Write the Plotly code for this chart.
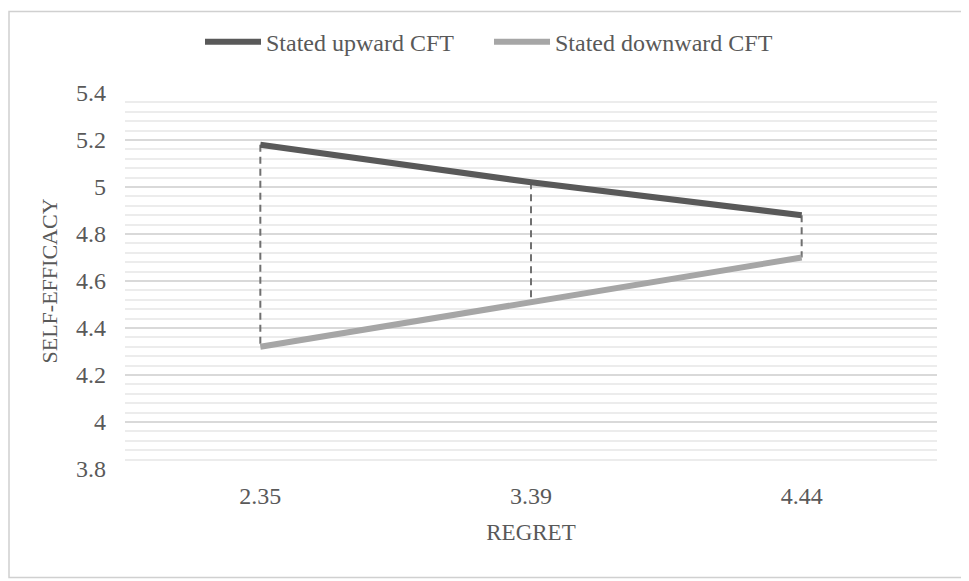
import plotly.graph_objects as go

categories = ["2.35", "3.39", "4.44"]
upward = [5.18, 5.02, 4.88]
downward = [4.32, 4.51, 4.70]
y_ticks = [3.8, 4, 4.2, 4.4, 4.6, 4.8, 5, 5.2, 5.4]
y_tick_labels = ["3.8", "4", "4.2", "4.4", "4.6", "4.8", "5", "5.2", "5.4"]

# page body has an 8px margin; figure spans page pixels 8..969 x 8..581
OFF = 8
W, H = 969 - OFF, 581 - OFF
ml, mr, mt, mb = 125 - OFF, 32, 91 - OFF, 112
pw, ph = W - ml - mr, H - mt - mb

font = "Liberation Serif"
txt = "#595959"

fig = go.Figure()

# dashed connectors
dx, dy = [], []
for c, u, d in zip(categories, upward, downward):
    dx += [c, c, None]
    dy += [u, d, None]
fig.add_trace(go.Scatter(x=dx, y=dy, mode="lines", showlegend=False, hoverinfo="skip",
                         line=dict(color="#707070", width=2, dash="7px,5px")))

fig.add_trace(go.Scatter(x=categories, y=upward, mode="lines", name="Stated upward CFT",
                         line=dict(color="#595959", width=6)))
fig.add_trace(go.Scatter(x=categories, y=downward, mode="lines", name="Stated downward CFT",
                         line=dict(color="#a6a6a6", width=6)))

def px_to_paper_x(px):
    return (px - OFF - ml) / pw

def px_to_paper_y(py):
    return (H - mb - (py - OFF)) / ph

fig.add_shape(type="rect", xref="paper", yref="paper",
              x0=px_to_paper_x(9), x1=px_to_paper_x(964),
              y0=px_to_paper_y(578), y1=px_to_paper_y(9),
              line=dict(color="#d0d0d0", width=1.5), fillcolor="rgba(0,0,0,0)", layer="below")

fig.update_layout(
    width=W, height=H,
    margin=dict(l=ml, r=mr, t=mt, b=mb),
    paper_bgcolor="white", plot_bgcolor="white",
    font=dict(family=font, size=23, color=txt),
    legend=dict(orientation="h", x=px_to_paper_x(200), xanchor="left", y=px_to_paper_y(40), yanchor="middle",
                font=dict(family=font, size=24, color=txt), itemwidth=56, tracegroupgap=0,
                entrywidth=218, entrywidthmode="pixels"),
    xaxis=dict(type="category", range=[-0.5, 2.5], showgrid=False, showline=False, ticks="",
               zeroline=False, ticklabelstandoff=10,
               title=dict(text="REGRET", font=dict(family=font, size=23, color=txt), standoff=15),
               tickfont=dict(family=font, size=24, color=txt)),
    yaxis=dict(range=[3.8, 5.4], tickvals=y_ticks, ticktext=y_tick_labels,
               showgrid=True, gridcolor="#d9d9d9", gridwidth=2, zeroline=False, showline=False,
               ticks="", ticklen=0, ticklabelstandoff=18,
               tickfont=dict(family=font, size=24, color=txt),
               title=dict(text="SELF-EFFICACY", font=dict(family=font, size=22, color=txt), standoff=12),
               minor=dict(dtick=0.04, tick0=3.8, showgrid=True, gridcolor="#ececec", gridwidth=2)),
    showlegend=True,
)

fig.write_html("out.html")
